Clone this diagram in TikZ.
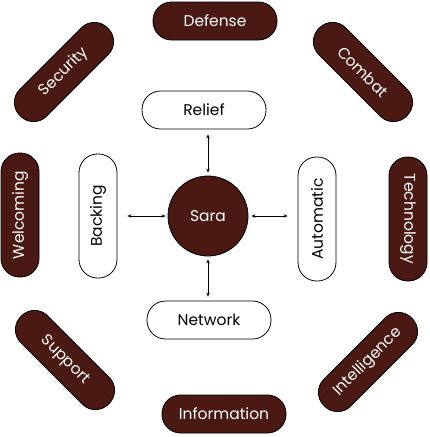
\documentclass[tikz,border=0pt]{standalone}
\usepackage{fontspec}
\setmainfont{Poppins}
\usetikzlibrary{arrows.meta}
\definecolor{brown}{HTML}{4A1913}
\tikzset{
  pill/.style={draw=black, line width=0.8pt, rounded corners=18.5pt, minimum width=124pt, minimum height=38pt, inner sep=0pt, font=\fontsize{15.5}{17}\selectfont},
  darkpill/.style={pill, fill=brown, text=white},
  lightpill/.style={pill, fill=white, text=black},
  arr/.style={{Stealth[length=4pt,width=3.5pt]}-{Stealth[length=4pt,width=3.5pt]}, line width=0.8pt}
}
\begin{document}
\begin{tikzpicture}[x=1pt,y=-1pt]
\useasboundingbox (0,0) rectangle (430,437);
% centre
\node[circle, draw=black, line width=0.8pt, fill=brown, text=white, minimum size=80pt, inner sep=0pt, font=\fontsize{15.5}{17}\selectfont] (sara) at (208,216) {Sara};
% inner ring
\node[lightpill] (relief) at (204,110) {Relief};
\node[lightpill] (network) at (209,320) {Network};
\node[lightpill, rotate=90] (backing) at (98,216) {Backing};
\node[lightpill, rotate=90] (automatic) at (317,219) {Automatic};
% outer ring
\node[darkpill] (defense) at (215,21) {Defense};
\node[darkpill] (information) at (224,414) {Information};
\node[darkpill, rotate=90] (welcoming) at (20,215) {Welcoming};
\node[darkpill, rotate=-90] (technology) at (408,219) {Technology};
\node[darkpill, rotate=45] (security) at (64,72) {Security};
\node[darkpill, rotate=-45] (combat) at (363,72) {Combat};
\node[darkpill, rotate=-45] (support) at (65,360) {Support};
\node[darkpill, rotate=45] (intelligence) at (368,362) {Intelligence};
% connectors
\draw[arr, shorten <=5pt, shorten >=3pt] (relief.south -| sara.north) -- (sara.north);
\draw[arr, shorten <=3pt, shorten >=4pt] (sara.south) -- (sara.south |- network.north);
\draw[arr, shorten <=10pt, shorten >=2pt] (backing.south |- sara.west) -- (sara.west);
\draw[arr, shorten <=3pt, shorten >=10pt] (sara.east) -- (sara.east -| automatic.north);
\end{tikzpicture}
\end{document}
